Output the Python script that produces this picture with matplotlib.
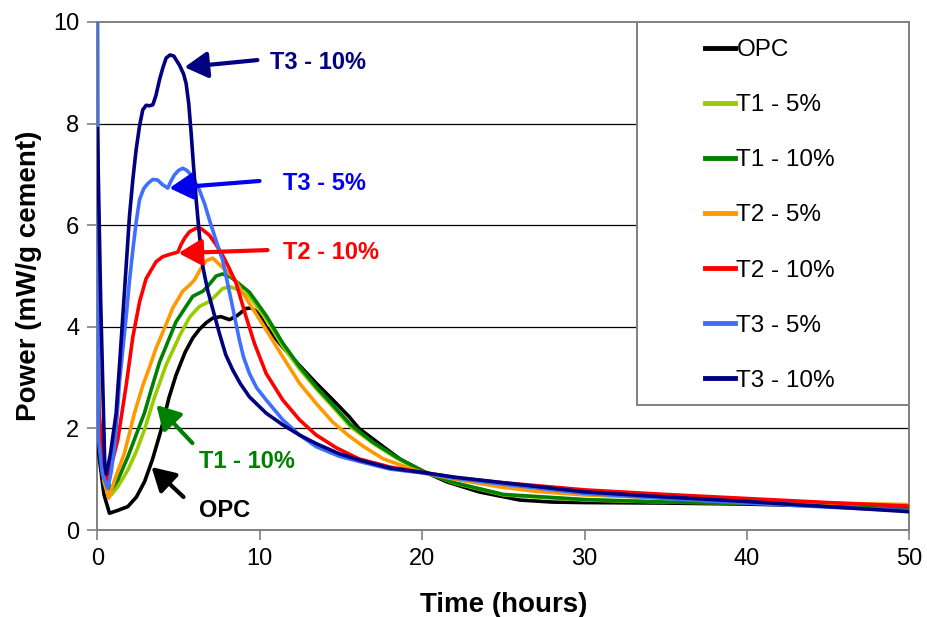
import matplotlib
matplotlib.use('Agg')
from matplotlib import pyplot as plt
from matplotlib.patches import Rectangle

plt.rcParams['font.family'] = ['Liberation Sans', 'DejaVu Sans']

# heat flow curves (time in hours, mW/g cement)
opc_t = [0.0, 0.08, 0.4, 0.74, 1.2, 1.87, 2.4, 2.9, 3.4, 3.92, 4.4, 4.84, 5.4, 5.87, 6.28, 6.7, 7.1, 7.6,
         8.13, 8.6, 9.15, 9.5, 9.9, 10.39, 11.41, 12.44, 13.47, 14.5, 15.5, 16.1, 17.6, 18.7, 20.1, 21.5,
         23.5, 26, 28, 30, 35, 40, 45, 50]
opc_p = [3.0, 1.5, 0.7, 0.33, 0.38, 0.46, 0.65, 0.95, 1.4, 1.97, 2.6, 3.05, 3.5, 3.78, 3.95, 4.08, 4.17, 4.2,
         4.14, 4.22, 4.36, 4.37, 4.27, 4.0, 3.6, 3.24, 2.89, 2.56, 2.23, 2.0, 1.64, 1.38, 1.15, 0.95,
         0.75, 0.59, 0.55, 0.54, 0.53, 0.51, 0.47, 0.43]

t1_5_t = [0.0, 0.08, 0.45, 0.84, 1.25, 1.87, 2.4, 2.89, 3.5, 4.23, 5.1, 5.7, 6.28, 6.9, 7.3, 7.7, 8.13, 8.6,
          9.36, 10.39, 11.41, 12.44, 13.47, 14.5, 15.6, 17, 18.5, 20.1, 22, 25, 30, 35, 40, 45, 50]
t1_5_p = [10.5, 2.2, 1.0, 0.69, 0.85, 1.18, 1.55, 1.97, 2.6, 3.25, 3.85, 4.2, 4.4, 4.5, 4.62, 4.75, 4.79, 4.74,
          4.6, 4.15, 3.62, 3.17, 2.78, 2.42, 2.03, 1.7, 1.4, 1.15, 0.92, 0.69, 0.59, 0.55, 0.53, 0.5, 0.46]

t1_10_t = [0.0, 0.08, 0.45, 0.84, 1.25, 1.87, 2.89, 3.3, 3.82, 4.84, 5.87, 6.49, 6.8, 7.31, 7.7, 8.2, 9.36,
           10.39, 11.41, 12.44, 13.47, 14.5, 15.6, 17, 18.5, 20.1, 22, 25, 30, 35, 40, 45, 50]
t1_10_p = [5.0, 2.2, 1.1, 0.78, 0.98, 1.44, 2.3, 2.75, 3.3, 4.1, 4.6, 4.7, 4.8, 5.0, 5.04, 4.98, 4.68,
           4.22, 3.68, 3.22, 2.82, 2.46, 2.07, 1.72, 1.42, 1.15, 0.93, 0.7, 0.6, 0.55, 0.53, 0.5, 0.46]

t2_5_t = [0.0, 0.08, 0.4, 0.7, 1.05, 1.66, 2.28, 2.8, 3.2, 3.61, 4.23, 4.64, 5.25, 5.67, 5.97, 6.28, 6.69,
          7.1, 7.6, 8.33, 9.36, 10.39, 11.41, 12.44, 13.47, 14.5, 15.5, 16.4, 17.6, 20.1, 22, 24.75, 27, 30,
          35, 40, 45, 50]
t2_5_p = [4.5, 2.0, 0.95, 0.63, 0.98, 1.51, 2.3, 2.85, 3.2, 3.58, 4.05, 4.37, 4.7, 4.82, 4.92, 5.1, 5.3,
          5.35, 5.2, 4.99, 4.46, 3.94, 3.41, 2.89, 2.49, 2.12, 1.85, 1.64, 1.4, 1.12, 1.0, 0.85, 0.76, 0.69,
          0.63, 0.57, 0.53, 0.5]

t2_10_t = [0.0, 0.08, 0.35, 0.64, 0.84, 1.25, 1.77, 2.18, 2.6, 3.0, 3.61, 4.02, 4.5, 4.95, 5.15, 5.4, 5.67,
           6.08, 6.4, 6.9, 7.3, 7.72, 8.1, 8.54, 9.15, 9.67, 10.39, 11.41, 12.44, 13.47, 14.7, 16.1, 18, 20.1,
           22, 25, 30, 35, 40, 45, 50]
t2_10_p = [6.7, 2.4, 1.3, 0.95, 1.25, 1.77, 2.85, 3.8, 4.5, 4.95, 5.28, 5.38, 5.43, 5.47, 5.62, 5.76, 5.87,
           5.94, 5.93, 5.8, 5.62, 5.4, 5.16, 4.86, 4.2, 3.67, 3.08, 2.56, 2.17, 1.87, 1.62, 1.4, 1.24, 1.13,
           1.03, 0.93, 0.79, 0.7, 0.62, 0.54, 0.47]

t3_5_t = [0.0, 0.06, 0.3, 0.64, 0.85, 1.05, 1.2, 1.35, 1.56, 1.77, 1.97, 2.18, 2.38, 2.59, 2.85, 3.1, 3.4,
          3.7, 4.0, 4.33, 4.5, 4.74, 5.0, 5.25, 5.5, 5.77, 6.0, 6.28, 6.6, 6.9, 7.3, 7.72, 8.23, 8.74, 9.0,
          9.36, 9.8, 10.39, 11.41, 12.44, 13.47, 14.9, 16.1, 18, 20.1, 22, 25, 30, 35, 40, 45, 50]
t3_5_p = [10.5, 1.8, 1.1, 0.82, 1.15, 1.64, 2.2, 2.88, 3.55, 4.2, 4.9, 5.51, 6.05, 6.5, 6.72, 6.82, 6.9,
          6.89, 6.8, 6.73, 6.85, 6.99, 7.08, 7.12, 7.08, 6.99, 6.86, 6.69, 6.42, 6.1, 5.7, 5.3, 4.53, 3.74, 3.4,
          3.08, 2.8, 2.56, 2.17, 1.87, 1.64, 1.45, 1.35, 1.2, 1.12, 1.02, 0.9, 0.72, 0.62, 0.53, 0.45, 0.38]

t3_10_t = [0.0, 0.2, 0.45, 0.55, 0.8, 1.15, 1.35, 1.56, 1.77, 1.97, 2.18, 2.38, 2.59, 2.79, 3.0, 3.2, 3.41,
           3.6, 3.82, 4.03, 4.23, 4.47, 4.7, 5.05, 5.3, 5.46, 5.62, 5.77, 5.92, 6.08, 6.28, 6.49, 6.8, 7.1,
           7.51, 7.9, 8.33, 8.8, 9.36, 10.39, 11.41, 12.44, 13.47, 14.9, 16.1, 18, 20.1, 22, 25, 30, 35, 40,
           45, 50]
t3_10_p = [7.9, 4.5, 1.3, 1.1, 1.5, 2.3, 3.2, 4.2, 5.2, 6.17, 6.9, 7.48, 7.95, 8.27, 8.36, 8.35, 8.37,
           8.55, 8.86, 9.1, 9.29, 9.35, 9.33, 9.15, 8.98, 8.79, 8.4, 7.81, 7.15, 6.5, 5.8, 5.18, 4.7, 4.35,
           3.87, 3.45, 3.15, 2.88, 2.62, 2.3, 2.07, 1.87, 1.7, 1.5, 1.38, 1.22, 1.13, 1.04, 0.93, 0.75, 0.65,
           0.56, 0.46, 0.36]

series = [
    ('OPC', opc_t, opc_p, '#000000'),
    ('T1 - 5%', t1_5_t, t1_5_p, '#99CC00'),
    ('T1 - 10%', t1_10_t, t1_10_p, '#008000'),
    ('T2 - 5%', t2_5_t, t2_5_p, '#FF9900'),
    ('T2 - 10%', t2_10_t, t2_10_p, '#FF0000'),
    ('T3 - 5%', t3_5_t, t3_5_p, '#3F6FFF'),
    ('T3 - 10%', t3_10_t, t3_10_p, '#000080'),
]

# callouts: text, text position, arrow tail, arrow head, colour
callouts = [
    ('T3 - 10%', (10.6, 9.21), (9.85, 9.25), (5.36, 9.11), '#000080'),
    ('T3 - 5%', (11.4, 6.83), (9.98, 6.87), (4.43, 6.73), '#0000EE'),
    ('T2 - 10%', (11.4, 5.47), (10.47, 5.51), (4.99, 5.45), '#FF0000'),
    ('T1 - 10%', (6.28, 1.34), (5.85, 1.71), (3.63, 2.46), '#008000'),
    ('OPC', (6.28, 0.39), (5.3, 0.65), (3.33, 1.24), '#000000'),
]

fig = plt.figure(figsize=(9.28, 6.17), dpi=100)
ax = fig.add_axes([0.105, 0.141, 0.875, 0.8234])

for y in [2, 4, 6, 8]:
    ax.axhline(y, color='black', lw=0.9, zorder=1)

lines = []
for name, t, p, c in series:
    ln, = ax.plot(t, p, color=c, lw=2.6, label=name, zorder=3, solid_joinstyle='round')
    lines.append(ln)

for txt, tpos, tail, head, c in callouts:
    ax.annotate('', xy=head, xytext=tail,
                arrowprops=dict(arrowstyle='-|>,head_length=0.7,head_width=0.4', lw=3, color=c,
                                shrinkA=0, shrinkB=0, mutation_scale=20), zorder=5)
    ax.text(tpos[0], tpos[1], txt, color=c, fontsize=17, fontweight='bold', ha='left', va='center', zorder=5)

ax.set_xlim(0, 50)
ax.set_ylim(0, 10)
ax.set_xticks(range(0, 51, 10))
ax.set_yticks(range(0, 11, 2))
ax.tick_params(direction='out', length=7, width=1.2, color='#808080', labelsize=17, pad=6)
for s in ax.spines.values():
    s.set_color('#808080')
    s.set_linewidth(1.4)
ax.set_xlabel('Time (hours)', fontsize=20, fontweight='bold', labelpad=16)
ax.set_ylabel('Power (mW/g cement)', fontsize=20, fontweight='bold', labelpad=8)

# legend box drawn by hand, legend itself without frame
ax.add_patch(Rectangle((0.664, 0.246), 0.336, 0.754, transform=ax.transAxes, facecolor='white',
                       edgecolor='#808080', lw=1.4, zorder=6))
leg = ax.legend(handles=lines, loc='upper left', bbox_to_anchor=(0.748, 0.966), frameon=False,
                fontsize=17.5, handlelength=1.25, handletextpad=0.05, labelspacing=1.36,
                borderpad=0, borderaxespad=0)
leg.set_zorder(7)
for h in leg.get_lines():
    h.set_linewidth(3.5)

plt.savefig('out.png', dpi=100)
